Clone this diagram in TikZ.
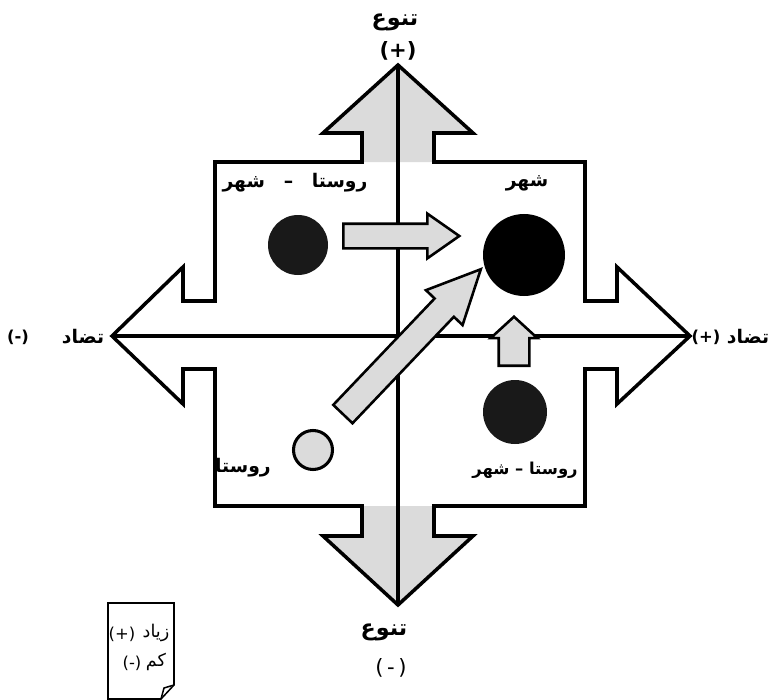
\documentclass[tikz,border=0pt]{standalone}
\usepackage{fontspec}
\usepackage{tikz}
\usetikzlibrary{shapes.arrows, positioning}
\TeXXeTstate=1
\newfontfamily\arabicfont[Script=Arabic]{DejaVu Sans}
\newfontfamily\signfont{DejaVu Sans}
\definecolor{stipple}{gray}{0.86}

\begin{document}
\begin{tikzpicture}[
        x=0.03cm, y=-0.03cm,
        fa/.style={font=\arabicfont\bfseries\fontsize{16}{19}\selectfont, inner sep=1pt},
        axlabel/.style={font=\arabicfont\bfseries\fontsize{19}{22}\selectfont, inner sep=1pt},
        sign/.style={font=\signfont\bfseries\fontsize{14}{16}\selectfont, inner sep=1pt},
        note/.style={font=\arabicfont\fontsize{15}{18}\selectfont, inner sep=1pt},
        notesign/.style={font=\signfont\fontsize{14}{16}\selectfont, inner sep=1pt},
        blockarrow/.style={single arrow, draw, line width=2.2pt, fill=stipple, inner xsep=0pt, minimum width=0pt, anchor=tail},
        dot/.style={circle, inner sep=0pt, fill=black!90},
        axis/.style={line width=4.2pt}
    ]

    \useasboundingbox (0,0) rectangle (772,700);

    % tips of the four axes
    \coordinate (ntip) at (398,65);
    \coordinate (stip) at (398,605);
    \coordinate (wtip) at (112,336);
    \coordinate (etip) at (690,336);

    \fill [stipple] (ntip) -- (473,133) -- (434,133) -- (434,162) -- (362,162) -- (362,133) -- (323,133) -- cycle;
    \fill [stipple] (stip) -- (473,536) -- (434,536) -- (434,506) -- (362,506) -- (362,536) -- (323,536) -- cycle;

    \draw [line width=3pt] (ntip) -- (473,133) -- (434,133) -- (434,162) -- (585,162) -- (585,301) -- (617,301) -- (617,267) -- (etip) -- (617,404) -- (617,369) -- (585,369) -- (585,506) -- (434,506) -- (434,536) -- (473,536) -- (stip) -- (323,536) -- (362,536) -- (362,506) -- (215,506) -- (215,369) -- (183,369) -- (183,404) -- (wtip) -- (183,267) -- (183,301) -- (215,301) -- (215,162) -- (362,162) -- (362,133) -- (323,133) -- cycle;

    \draw [axis] (ntip) -- (stip);
    \draw [axis] (wtip) -- (etip);

    \node (mixa) [dot, minimum size=1.8cm] at (298,245) {};
    \node (city) [circle, fill=black, inner sep=0pt, minimum size=2.46cm] at (524,255) {};
    \node (mixb) [dot, minimum size=1.92cm] at (515,412) {};
    \node (village) [circle, draw, line width=2.6pt, fill=gray!28, inner sep=0pt, minimum size=1.17cm] at (313,450) {};

    \node (toright) [blockarrow, inner ysep=0.33cm, single arrow head extend=0.3cm, single arrow tip angle=70, minimum height=3.48cm] at (342,236) {};
    \node (toup) [blockarrow, rotate=90, inner ysep=0.42cm, single arrow head extend=0.24cm, single arrow tip angle=95, minimum height=1.47cm] at (514,367) {};
    \node (tocity) [blockarrow, rotate=46.4, inner ysep=0.36cm, single arrow head extend=0.36cm, single arrow tip angle=51, minimum height=6cm] at (342,415) {};

    \node (divtop) [axlabel] at (395,22) {\beginR تنوع\endR};
    \node (plustop) [sign, font=\signfont\bfseries\fontsize{18}{20}\selectfont] at (398,51) {(+)};
    \node (divbot) [axlabel] at (384,632) {\beginR تنوع\endR};
    \node (minusbot) [sign, font=\signfont\fontsize{18}{20}\selectfont] at (391,668) {(\,-\,)};
    \node (minusw) [sign] at (18,337) {(-)};
    \node (contw) [fa] at (83,337) {\beginR تضاد\endR};
    \node (pluse) [sign] at (706,337) {(+)};
    \node (conte) [fa] at (748,337) {\beginR تضاد\endR};

    \node (lbmixa) [fa] at (295,183) {\beginR روستا\quad–\quad شهر\endR};
    \node (lbcity) [fa] at (527,183) {\beginR شهر\endR};
    \node (lbvillage) [fa] at (243,468) {\beginR روستا\endR};
    \node (lbmixb) [fa, font=\arabicfont\bfseries\fontsize{14}{17}\selectfont] at (525,470) {\beginR روستا – شهر\endR};

    \draw [line width=1.3pt] (108,603) -- (174,603) -- (174,685) -- (161,699) -- (108,699) -- cycle;
    \draw [line width=1.3pt] (161,699) -- (164,688) -- (174,685);
    \node (more) [note] at (156,633) {\beginR زیاد\endR};
    \node (plus) [notesign] at (122,634) {(+)};
    \node (less) [note] at (156,662) {\beginR کم\endR};
    \node (minus) [notesign] at (132,663) {(-)};

\end{tikzpicture}
\end{document}
